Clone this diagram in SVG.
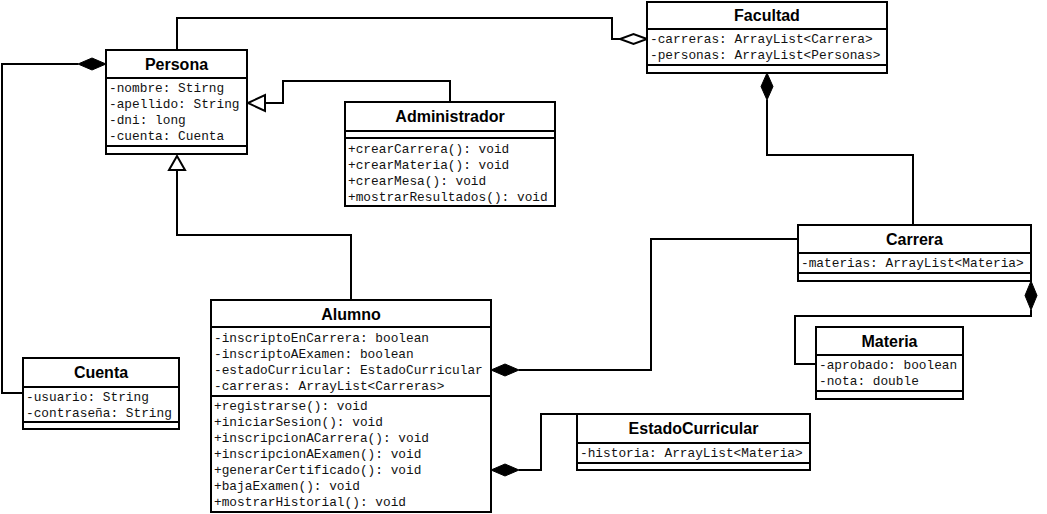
<svg xmlns="http://www.w3.org/2000/svg" width="1047" height="514" viewBox="0 0 1047 514">
<style>
.box{fill:#fff;stroke:#000;stroke-width:2}
.div{stroke:#000;stroke-width:2}
.t{font-family:"Liberation Sans",Arial,sans-serif;font-weight:bold;font-size:16px;text-anchor:middle;fill:#000}
.m{font-family:"Liberation Mono","Courier New",monospace;font-size:12.8px;fill:#111}
.ln{fill:none;stroke:#000;stroke-width:2}
.fd{fill:#000;stroke:#000;stroke-width:1}
.hd{fill:#fff;stroke:#000;stroke-width:2}
</style>
<rect width="1047" height="514" fill="#fff"/>
<g id="connectors">
  <polyline class="ln" points="78,64 2,64 2,393 23,393"/>
  <path class="fd" d="M106,64 L92,58 L78,64 L92,70 Z"/>
  <polyline class="ln" points="177,50 177,18 612,18 612,39 620,39"/>
  <path class="hd" d="M647,39 L633.5,34 L620,39 L633.5,44 Z"/>
  <polyline class="ln" points="450,102 450,81 283,81 283,103 265,103"/>
  <path class="hd" d="M248,103 L265,95 L265,111 Z"/>
  <polyline class="ln" points="351,300 351,235 177,235 177,170"/>
  <path class="hd" d="M177,156 L169,170 L185,170 Z"/>
  <polyline class="ln" points="767,100 767,155 913,155 913,225"/>
  <path class="fd" d="M767,73 L773,86.5 L767,100 L761,86.5 Z"/>
  <polyline class="ln" points="1031,310 1031,316 795,316 795,364 816,364"/>
  <path class="fd" d="M1031,281 L1037,295.5 L1031,310 L1025,295.5 Z"/>
  <polyline class="ln" points="519,370 651,370 651,239 798,239"/>
  <path class="fd" d="M491,370 L505,364 L519,370 L505,376 Z"/>
  <polyline class="ln" points="519,470 541,470 541,414 577,414"/>
  <path class="fd" d="M491,470 L505,464 L519,470 L505,476 Z"/>
</g>
<g id="Persona">
  <rect class="box" x="106" y="50" width="141" height="104"/>
  <line class="div" x1="106" y1="78" x2="247" y2="78"/>
  <line class="div" x1="106" y1="146" x2="247" y2="146"/>
  <text class="t" x="176.5" y="70">Persona</text>
  <text class="m" x="109" y="92">-nombre: Stirng</text>
  <text class="m" x="109" y="108">-apellido: String</text>
  <text class="m" x="109" y="124">-dni: long</text>
  <text class="m" x="109" y="140">-cuenta: Cuenta</text>
</g>
<g id="Facultad">
  <rect class="box" x="647" y="2" width="240" height="71"/>
  <line class="div" x1="647" y1="29" x2="887" y2="29"/>
  <line class="div" x1="647" y1="65" x2="887" y2="65"/>
  <text class="t" x="767" y="21">Facultad</text>
  <text class="m" x="650" y="43">-carreras: ArrayList&lt;Carrera&gt;</text>
  <text class="m" x="650" y="59">-personas: ArrayList&lt;Personas&gt;</text>
</g>
<g id="Administrador">
  <rect class="box" x="345" y="102" width="210" height="104"/>
  <line class="div" x1="345" y1="131" x2="555" y2="131"/>
  <line class="div" x1="345" y1="138" x2="555" y2="138"/>
  <text class="t" x="450" y="122">Administrador</text>
  <text class="m" x="348" y="153">+crearCarrera(): void</text>
  <text class="m" x="348" y="169">+crearMateria(): void</text>
  <text class="m" x="348" y="185">+crearMesa(): void</text>
  <text class="m" x="348" y="201">+mostrarResultados(): void</text>
</g>
<g id="Alumno">
  <rect class="box" x="211" y="300" width="280" height="212"/>
  <line class="div" x1="211" y1="327" x2="491" y2="327"/>
  <line class="div" x1="211" y1="396" x2="491" y2="396"/>
  <text class="t" x="351" y="320">Alumno</text>
  <text class="m" x="214" y="342">-inscriptoEnCarrera: boolean</text>
  <text class="m" x="214" y="358">-inscriptoAExamen: boolean</text>
  <text class="m" x="214" y="374">-estadoCurricular: EstadoCurricular</text>
  <text class="m" x="214" y="390">-carreras: ArrayList&lt;Carreras&gt;</text>
  <text class="m" x="214" y="410">+registrarse(): void</text>
  <text class="m" x="214" y="426">+iniciarSesion(): void</text>
  <text class="m" x="214" y="442">+inscripcionACarrera(): void</text>
  <text class="m" x="214" y="458">+inscripcionAExamen(): void</text>
  <text class="m" x="214" y="474">+generarCertificado(): void</text>
  <text class="m" x="214" y="490">+bajaExamen(): void</text>
  <text class="m" x="214" y="506">+mostrarHistorial(): void</text>
</g>
<g id="Cuenta">
  <rect class="box" x="23" y="358" width="156" height="71"/>
  <line class="div" x1="23" y1="387" x2="179" y2="387"/>
  <line class="div" x1="23" y1="422" x2="179" y2="422"/>
  <text class="t" x="101" y="378">Cuenta</text>
  <text class="m" x="26" y="401">-usuario: String</text>
  <text class="m" x="26" y="417">-contraseña: String</text>
</g>
<g id="Carrera">
  <rect class="box" x="798" y="225" width="233" height="56"/>
  <line class="div" x1="798" y1="253" x2="1031" y2="253"/>
  <line class="div" x1="798" y1="273" x2="1031" y2="273"/>
  <text class="t" x="914.5" y="245">Carrera</text>
  <text class="m" x="801" y="267">-materias: ArrayList&lt;Materia&gt;</text>
</g>
<g id="Materia">
  <rect class="box" x="816" y="327" width="147" height="72"/>
  <line class="div" x1="816" y1="355" x2="963" y2="355"/>
  <line class="div" x1="816" y1="391" x2="963" y2="391"/>
  <text class="t" x="889.5" y="347">Materia</text>
  <text class="m" x="819" y="369">-aprobado: boolean</text>
  <text class="m" x="819" y="385">-nota: double</text>
</g>
<g id="EstadoCurricular">
  <rect class="box" x="577" y="414" width="233" height="56"/>
  <line class="div" x1="577" y1="443" x2="810" y2="443"/>
  <line class="div" x1="577" y1="463" x2="810" y2="463"/>
  <text class="t" x="693.5" y="434">EstadoCurricular</text>
  <text class="m" x="580" y="457">-historia: ArrayList&lt;Materia&gt;</text>
</g>
</svg>
